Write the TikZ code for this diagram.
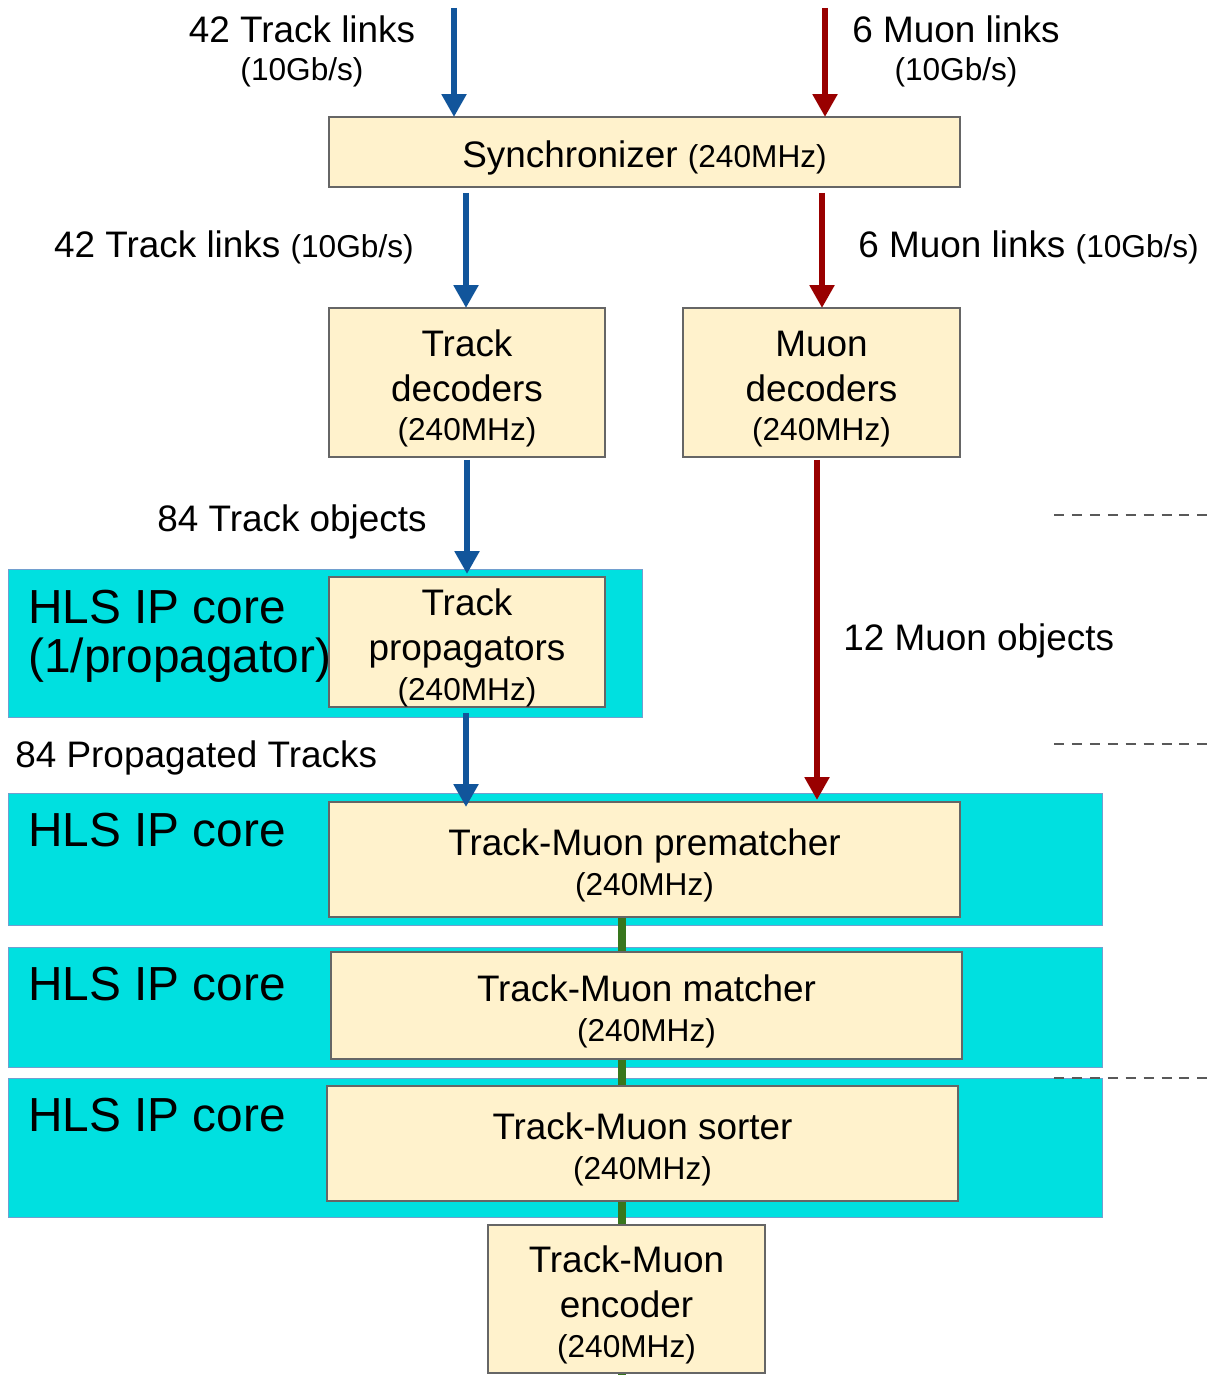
\documentclass[tikz,border=0pt]{standalone}
\usepackage{fontspec}
\setmainfont{Liberation Sans}
\usetikzlibrary{arrows.meta,calc}
\definecolor{boxfill}{HTML}{FFF2CC}
\definecolor{boxline}{HTML}{666666}
\definecolor{hls}{HTML}{00E0E0}
\definecolor{hlsline}{HTML}{729FCF}
\definecolor{tblue}{HTML}{11559B}
\definecolor{mred}{HTML}{990000}
\definecolor{lgreen}{HTML}{38761D}
\definecolor{dgray}{HTML}{595959}
\newcommand\bigf{\fontsize{21}{25.5}\selectfont}
\newcommand\smf{\fontsize{18}{22}\selectfont}
\newcommand\hlsf{\fontsize{27.2}{31}\selectfont}
\newcommand\tstrut{\rule{0pt}{22pt}}
\pgfdeclarelayer{back}
\pgfdeclarelayer{mid}
\pgfsetlayers{back,mid,main}
\begin{document}
\begin{tikzpicture}[x=0.02cm,y=-0.02cm,
 box/.style={draw=boxline,fill=boxfill,line width=0.85pt,inner sep=0pt,outer sep=0pt,align=center,font=\bigf},
 hlsbox/.style={draw=hlsline,fill=hls,line width=0.5pt,inner sep=0pt,outer sep=0pt},
 lbl/.style={inner sep=0pt,font=\bigf},
 hlslbl/.style={inner sep=0pt,font=\hlsf,anchor=base west},
 barr/.style={draw=tblue,line width=3.4pt,-{Triangle[length=13pt,width=13.5pt]}},
 rarr/.style={draw=mred,line width=3.4pt,-{Triangle[length=13pt,width=13.5pt]}},
 gline/.style={draw=lgreen,line width=4pt},
 dline/.style={draw=dgray,line width=1.1pt,dash pattern=on 5.7pt off 4.5pt}]
\useasboundingbox (0,0) rectangle (1208,1375);

% HLS cores (background)
\begin{pgfonlayer}{back}
\node[hlsbox,minimum width=12.68cm,minimum height=2.96cm] (hls1) at (325,643) {};
\node[hlsbox,minimum width=21.9cm,minimum height=2.64cm] (hls2) at (555.5,859) {};
\node[hlsbox,minimum width=21.9cm,minimum height=2.4cm] (hls3) at (555.5,1007) {};
\node[hlsbox,minimum width=21.9cm,minimum height=2.78cm] (hls4) at (555.5,1147.5) {};
\end{pgfonlayer}

\node[hlslbl] (h1a) at (28,623) {HLS IP core};
\node[hlslbl] (h1b) at (28,672) {(1/propagator)};
\node[hlslbl] (h2) at (28,846) {HLS IP core};
\node[hlslbl] (h3) at (28,1000) {HLS IP core};
\node[hlslbl] (h4) at (28,1131) {HLS IP core};

% boxes
\node[box,minimum width=12.62cm,minimum height=1.4cm] (sync) at (644.5,152) {\tstrut Synchronizer {\smf(240MHz)}};
\node[box,minimum width=5.52cm,minimum height=2.98cm] (tdec) at (467,382.5) {\tstrut Track\\decoders\\[-3pt]{\smf(240MHz)}};
\node[box,minimum width=5.54cm,minimum height=2.98cm] (mdec) at (821.5,382.5) {\tstrut Muon\\decoders\\[-3pt]{\smf(240MHz)}};
\node[box,minimum width=5.52cm,minimum height=2.6cm] (tprop) at (467,642) {\tstrut Track\\propagators\\[-3pt]{\smf(240MHz)}};
\node[box,minimum width=12.62cm,minimum height=2.3cm] (prem) at (644.5,859.5) {\tstrut Track-Muon prematcher\\[-3pt]{\smf(240MHz)}};
\node[box,minimum width=12.62cm,minimum height=2.14cm] (match) at (646.5,1005.5) {\tstrut Track-Muon matcher\\[-3pt]{\smf(240MHz)}};
\node[box,minimum width=12.62cm,minimum height=2.3cm] (sort) at (642.5,1143.5) {\tstrut Track-Muon sorter\\[-3pt]{\smf(240MHz)}};
\node[box,minimum width=5.54cm,minimum height=2.96cm] (enc) at (626.5,1299) {\tstrut Track-Muon\\encoder\\[-3pt]{\smf(240MHz)}};

% labels
\node[lbl,anchor=base] (tl1) at (302,43) {42 Track links};
\node[lbl,font=\smf,anchor=base] (tl2) at (302,81) {(10Gb/s)};
\node[lbl,anchor=base] (ml1) at (956,43) {6 Muon links};
\node[lbl,font=\smf,anchor=base] (ml2) at (956,81) {(10Gb/s)};
\node[lbl,anchor=base east] (tl3) at (414,257) {42 Track links {\smf(10Gb/s)}};
\node[lbl,anchor=base west] (ml3) at (858,257) {6 Muon links {\smf(10Gb/s)}};
\node[lbl,anchor=base east] (tobj) at (427,531) {84 Track objects};
\node[lbl,anchor=base west] (mobj) at (843,650) {12 Muon objects};
\node[lbl,anchor=base west] (ptr) at (15,767) {84 Propagated Tracks};

% green chain
\coordinate (gend) at (622,1375);
\begin{pgfonlayer}{mid}
\draw[gline] (prem.south -| gend) -- (gend);
\end{pgfonlayer}

% arrows
\coordinate (tin) at (454,8);
\coordinate (min) at (825,8);
\draw[barr] (tin) -- (tin |- sync.north);
\draw[rarr] (min) -- (min |- sync.north);
\draw[barr] ($(sync.south -| tdec.north)+(-1,6)$) -- ($(tdec.north)+(-1,0)$);
\draw[rarr] ($(sync.south -| mdec.north)+(0.5,6)$) -- ($(mdec.north)+(0.5,0)$);
\draw[barr] ($(tdec.south)+(0,3)$) -- ($(tprop.north)+(0,-3)$);
\draw[rarr] ($(mdec.south)+(-4.5,3)$) -- ($(mdec.south |- prem.north)+(-4.5,-2)$);
\draw[barr] ($(tprop.south)+(-1,6)$) -- ($(tprop.south |- prem.north)+(-1,5)$);

% dashed lines
\coordinate (d1a) at (1054,515); \coordinate (d1b) at (1208,515);
\coordinate (d2a) at (1054,744); \coordinate (d2b) at (1208,744);
\coordinate (d3a) at (1054,1078); \coordinate (d3b) at (1208,1078);
\draw[dline] (d1a) -- (d1b);
\draw[dline] (d2a) -- (d2b);
\draw[dline] (d3a) -- (d3b);
\end{tikzpicture}
\end{document}
